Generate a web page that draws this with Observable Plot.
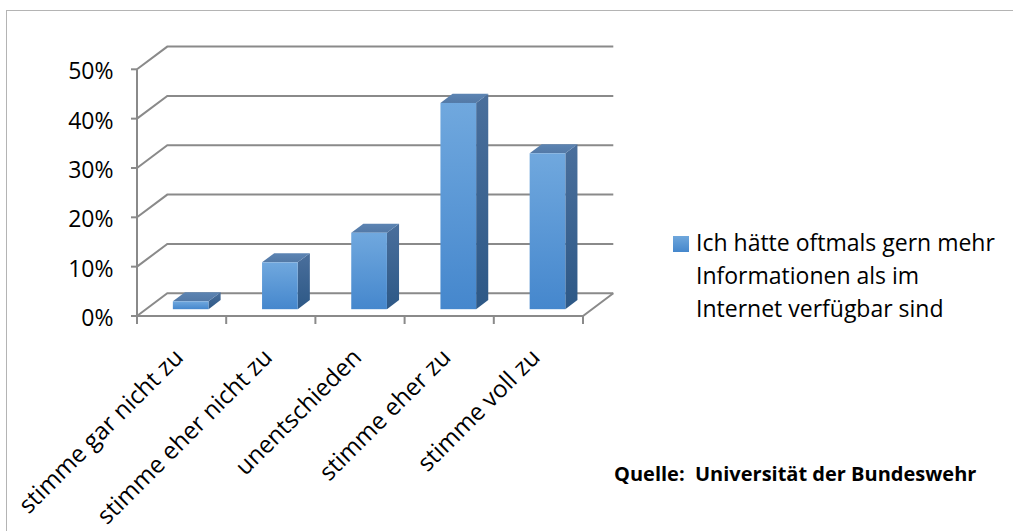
<!DOCTYPE html>
<html>
<head>
<meta charset="utf-8">
<script src="https://cdn.jsdelivr.net/npm/d3@7"></script>
<script src="https://cdn.jsdelivr.net/npm/@observablehq/plot@0.6"></script>
<style>
  html, body { margin: 0; padding: 0; background: #fff; overflow: hidden; }
  body { width: 1013px; height: 531px; position: relative; font-family: "Open Sans", sans-serif; }
  #frame { position: absolute; left: 6px; top: 10px; width: 1007px; height: 521px; border-left: 1.5px solid #b4b4b4; border-top: 1.5px solid #b4b4b4; box-sizing: border-box; z-index: 5; pointer-events: none; }
  #chart { position: absolute; left: 0; top: 0; width: 1013px; height: 531px; }
  #legend { position: absolute; left: 673px; top: 226px; font-size: 23px; line-height: 33px; color: #000; }
  #legend .sw { position: absolute; left: 0; top: 10px; width: 16px; height: 16px; background: linear-gradient(#6fa7dc, #4587cc); }
  #legend .txt { position: absolute; left: 23px; top: 0; white-space: nowrap; }
  #source { position: absolute; left: 614px; top: 460px; font-size: 20px; font-weight: bold; color: #000; white-space: pre; line-height: 1.362; }
</style>
</head>
<body>
<div id="chart"></div>
<div id="legend"></div>
<div id="source"></div>
<div id="frame"></div>
<script>
// ---- data ----
const categories = ["stimme gar nicht zu", "stimme eher nicht zu", "unentschieden", "stimme eher zu", "stimme voll zu"];
const values = [0.016, 0.095, 0.155, 0.418, 0.316];
const yTicks = [0, 0.1, 0.2, 0.3, 0.4, 0.5];
const seriesLabelLines = ["Ich hätte oftmals gern mehr", "Informationen als im", "Internet verfügbar sind"];
const sourceText = "Quelle:  Universität der Bundeswehr";

// ---- 3D styling ----
const depth = [30.3, -22.7];     // pixel depth of the box (front -> back)
const barDepth = [0.3, 0.7];     // bar position within depth
const barWidthFrac = 0.4;        // bar width as fraction of the category band
const gridColor = "#8a8a8a";

function bandInfo(x) {
  const bw = x.bandwidth ? x.bandwidth() : 0;
  const x0 = x(categories[0]);
  const x1 = x(categories[categories.length - 1]) + bw;
  return {bw, x0, x1};
}

function walls(index, scales) {
  const {x, y} = scales;
  const {bw, x0, x1} = bandInfo(x);
  const [dx, dy] = depth;
  const g = d3.create("svg:g").attr("fill", "none").attr("stroke", gridColor).attr("stroke-width", 2);
  for (const t of yTicks) {
    const yy = y(t);
    g.append("path").attr("d", `M${x0},${yy}L${x0 + dx},${yy + dy}L${x1 + dx},${yy + dy}`);
    g.append("line").attr("x1", x0 - 6).attr("x2", x0).attr("y1", yy).attr("y2", yy);
  }
  const y0 = y(0);
  g.append("path").attr("d", `M${x0},${y0}L${x1},${y0}L${x1 + dx},${y0 + dy}`);
  g.append("line").attr("x1", x0).attr("x2", x0).attr("y1", y0).attr("y2", y(yTicks[yTicks.length - 1]));
  for (let i = 0; i <= categories.length; ++i) {
    const xx = x0 + i * bw;
    g.append("line").attr("x1", xx).attr("x2", xx).attr("y1", y0).attr("y2", y0 + 8);
  }
  return g.node();
}

function bars(index, scales) {
  const {x, y} = scales;
  const {bw} = bandInfo(x);
  const [dx, dy] = depth;
  const g = d3.create("svg:g");
  const defs = g.append("defs");
  const grad = (id, c0, c1) => {
    const lg = defs.append("linearGradient").attr("id", id).attr("x1", 0).attr("y1", 0).attr("x2", 0).attr("y2", 1);
    lg.append("stop").attr("offset", 0).attr("stop-color", c0);
    lg.append("stop").attr("offset", 1).attr("stop-color", c1);
  };
  grad("gFront", "#70a8de", "#4587cd");
  grad("gSide", "#4a6f9c", "#2d5886");
  grad("gTop", "#5c84b3", "#5379a6");
  const ox = dx * barDepth[0], oy = dy * barDepth[0];
  const tx = dx * (barDepth[1] - barDepth[0]), ty = dy * (barDepth[1] - barDepth[0]);
  categories.forEach((c, i) => {
    const left = x(c) + bw * (1 - barWidthFrac) / 2 + ox;
    const right = left + bw * barWidthFrac;
    const yb = y(0) + oy, yt = y(values[i]) + oy;
    g.append("path").attr("fill", "url(#gSide)")
      .attr("d", `M${right},${yb}L${right},${yt}L${right + tx},${yt + ty}L${right + tx},${yb + ty}Z`);
    g.append("path").attr("fill", "url(#gTop)")
      .attr("d", `M${left},${yt}L${right},${yt}L${right + tx},${yt + ty}L${left + tx},${yt + ty}Z`);
    g.append("rect").attr("fill", "url(#gFront)")
      .attr("x", left).attr("y", yt).attr("width", right - left).attr("height", yb - yt);
  });
  return g.node();
}

const chart = Plot.plot({
  width: 1013,
  height: 531,
  marginLeft: 137,
  marginRight: 430,
  marginTop: 69.3,
  marginBottom: 215,
  style: {fontFamily: "'Open Sans', sans-serif", fontSize: "23px", color: "#000", background: "transparent", overflow: "visible"},
  x: {type: "band", domain: categories, padding: 0, range: [137, 583], round: false},
  y: {domain: [0, 0.5], range: [316, 69.3]},
  marks: [
    walls,
    bars,
    Plot.axisY(yTicks, {tickSize: 0, tickPadding: 24, tickFormat: d3.format(".0%"), dy: 2, fill: "#000"}),
    Plot.axisX({tickSize: 0, tickRotate: -45, tickPadding: 12, dx: -3, dy: 25, fill: "#000", fontSize: 24})
  ]
});
document.getElementById("chart").appendChild(chart);

const legend = document.getElementById("legend");
const sw = document.createElement("div"); sw.className = "sw"; legend.appendChild(sw);
const txt = document.createElement("div"); txt.className = "txt";
seriesLabelLines.forEach(l => { const d = document.createElement("div"); d.textContent = l; txt.appendChild(d); });
legend.appendChild(txt);
document.getElementById("source").textContent = sourceText;
</script>
</body>
</html>
